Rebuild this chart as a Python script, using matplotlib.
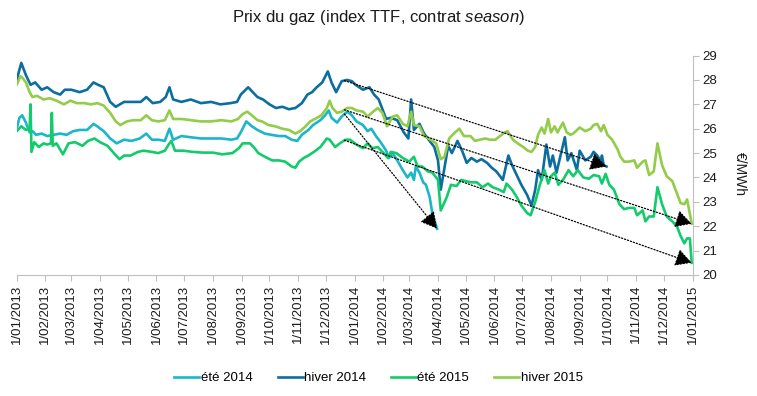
import numpy as np
import pandas as pd
import matplotlib
matplotlib.use("Agg")
import matplotlib.pyplot as plt
import matplotlib.dates as mdates

plt.rcParams['font.family'] = ['Liberation Sans', 'DejaVu Sans']
plt.rcParams['mathtext.fontset'] = 'custom'
plt.rcParams['mathtext.it'] = 'Liberation Sans:italic'
plt.rcParams['mathtext.rm'] = 'Liberation Sans'

# --- data (EUR/MWh) ---
ete14_dates = ["2013-01-01", "2013-01-04", "2013-01-07", "2013-01-11", "2013-01-15", "2013-01-18", "2013-01-22",
               "2013-01-28", "2013-02-03", "2013-02-10", "2013-02-17", "2013-02-24", "2013-03-03", "2013-03-10",
               "2013-03-18", "2013-03-25", "2013-03-29", "2013-04-05", "2013-04-12", "2013-04-19", "2013-04-27",
               "2013-05-05", "2013-05-14", "2013-05-21", "2013-05-27", "2013-06-03", "2013-06-10", "2013-06-15",
               "2013-06-19", "2013-06-28", "2013-07-08", "2013-07-19", "2013-07-30", "2013-08-10", "2013-08-21",
               "2013-08-27", "2013-08-31", "2013-09-06", "2013-09-12", "2013-09-18", "2013-09-26", "2013-10-03",
               "2013-10-11", "2013-10-18", "2013-10-25", "2013-10-31", "2013-11-05", "2013-11-12", "2013-11-17",
               "2013-11-25", "2013-11-30", "2013-12-04", "2013-12-07", "2013-12-13", "2013-12-18", "2013-12-24",
               "2013-12-29", "2014-01-03", "2014-01-10", "2014-01-15", "2014-01-19", "2014-01-24", "2014-01-29",
               "2014-02-04", "2014-02-07", "2014-02-11", "2014-02-16", "2014-02-22", "2014-02-27", "2014-03-03",
               "2014-03-06", "2014-03-08", "2014-03-12", "2014-03-16", "2014-03-19", "2014-03-23", "2014-03-26",
               "2014-03-31"]
ete14_values = [26.0, 26.45, 26.55, 26.25, 25.85, 25.9, 25.75,
                25.8, 25.7, 25.75, 25.8, 25.75, 25.9, 25.95,
                25.95, 26.2, 26.1, 25.9, 25.6, 25.4, 25.55,
                25.5, 25.6, 25.8, 25.55, 25.55, 25.5, 26.0,
                25.55, 25.7, 25.65, 25.6, 25.6, 25.6, 25.55,
                25.6, 25.85, 26.3, 26.1, 25.95, 25.8, 25.75,
                25.7, 25.7, 25.55, 25.5, 25.75, 25.95, 26.15,
                26.35, 26.55, 26.75, 26.45, 26.25, 26.5, 26.7,
                26.55, 26.3, 26.15, 25.9, 26.0, 25.7, 25.45,
                25.1, 24.8, 25.0, 24.7, 24.3, 24.0, 24.2,
                23.9, 24.45, 24.2, 23.8, 23.7, 23.2, 22.5,
                21.9]

hiv14_dates = ["2013-01-01", "2013-01-06", "2013-01-11", "2013-01-16", "2013-01-21", "2013-01-28", "2013-02-03",
               "2013-02-10", "2013-02-17", "2013-02-22", "2013-03-01", "2013-03-10", "2013-03-18", "2013-03-25",
               "2013-03-30", "2013-04-05", "2013-04-12", "2013-04-18", "2013-04-27", "2013-05-05", "2013-05-15",
               "2013-05-21", "2013-05-28", "2013-06-05", "2013-06-11", "2013-06-15", "2013-06-19", "2013-06-28",
               "2013-07-08", "2013-07-19", "2013-07-30", "2013-08-09", "2013-08-20", "2013-08-27", "2013-08-31",
               "2013-09-08", "2013-09-13", "2013-09-18", "2013-09-24", "2013-10-01", "2013-10-08", "2013-10-15",
               "2013-10-22", "2013-10-29", "2013-11-05", "2013-11-11", "2013-11-16", "2013-11-21", "2013-11-27",
               "2013-12-03", "2013-12-07", "2013-12-12", "2013-12-18", "2013-12-24", "2013-12-29", "2014-01-02",
               "2014-01-10", "2014-01-17", "2014-01-22", "2014-01-27", "2014-02-04", "2014-02-09", "2014-02-16",
               "2014-02-23", "2014-02-28", "2014-03-03", "2014-03-06", "2014-03-12", "2014-03-17", "2014-03-22",
               "2014-03-28", "2014-04-01", "2014-04-04", "2014-04-08", "2014-04-12", "2014-04-16", "2014-04-22",
               "2014-04-27", "2014-05-02", "2014-05-07", "2014-05-13", "2014-05-18", "2014-05-24", "2014-05-29",
               "2014-06-03", "2014-06-10", "2014-06-16", "2014-06-20", "2014-06-25", "2014-06-30", "2014-07-06",
               "2014-07-11", "2014-07-15", "2014-07-18", "2014-07-22", "2014-07-27", "2014-07-31", "2014-08-03",
               "2014-08-07", "2014-08-11", "2014-08-16", "2014-08-19", "2014-08-23", "2014-08-29", "2014-09-01",
               "2014-09-07", "2014-09-13", "2014-09-16", "2014-09-20", "2014-09-24", "2014-09-25", "2014-09-27",
               "2014-09-30"]
hiv14_values = [28.0, 28.7, 28.2, 27.8, 27.9, 27.6, 27.7,
                27.5, 27.4, 27.6, 27.6, 27.5, 27.6, 27.9,
                27.8, 27.7, 27.1, 26.9, 27.1, 27.1, 27.1,
                27.3, 27.05, 27.1, 27.3, 27.7, 27.2, 27.1,
                27.2, 27.05, 27.1, 27.0, 27.05, 27.1, 27.4,
                27.7, 27.5, 27.3, 27.2, 27.0, 26.85, 26.9,
                26.8, 26.85, 27.05, 27.4, 27.5, 27.7, 27.9,
                28.35, 27.9, 27.5, 27.95, 28.0, 27.95, 27.8,
                27.6, 27.7, 27.4, 27.2, 26.4, 26.45, 26.35,
                25.85, 25.6, 27.2, 25.95, 26.2, 25.8, 25.55,
                25.25, 24.7, 23.5, 24.4, 25.3, 25.0, 25.5,
                25.1, 24.6, 24.8, 24.65, 24.75, 24.6, 24.4,
                24.25, 23.9, 24.9, 24.5, 24.1, 23.7, 23.3,
                22.85, 23.5, 24.3, 23.9, 25.35, 24.45, 24.9,
                24.2, 24.85, 25.65, 24.7, 25.0, 24.3, 25.1,
                24.7, 24.85, 25.05, 24.9, 24.65, 24.9, 24.5,
                24.45]

ete15_dates = ["2013-01-01", "2013-01-06", "2013-01-11", "2013-01-15", "2013-01-16", "2013-01-17", "2013-01-20",
               "2013-01-25", "2013-01-30", "2013-02-03", "2013-02-07", "2013-02-08", "2013-02-09", "2013-02-13",
               "2013-02-20", "2013-02-26", "2013-03-05", "2013-03-13", "2013-03-19", "2013-03-26", "2013-04-01",
               "2013-04-09", "2013-04-16", "2013-04-22", "2013-04-27", "2013-05-04", "2013-05-12", "2013-05-18",
               "2013-05-27", "2013-06-03", "2013-06-10", "2013-06-15", "2013-06-17", "2013-06-21", "2013-06-30",
               "2013-07-10", "2013-07-21", "2013-08-01", "2013-08-11", "2013-08-22", "2013-08-29", "2013-09-02",
               "2013-09-10", "2013-09-15", "2013-09-19", "2013-09-26", "2013-10-04", "2013-10-11", "2013-10-18",
               "2013-10-25", "2013-10-29", "2013-11-02", "2013-11-07", "2013-11-12", "2013-11-18", "2013-11-25",
               "2013-12-02", "2013-12-05", "2013-12-11", "2013-12-16", "2013-12-22", "2013-12-27", "2014-01-03",
               "2014-01-10", "2014-01-15", "2014-01-20", "2014-01-26", "2014-01-31", "2014-02-06", "2014-02-09",
               "2014-02-15", "2014-02-22", "2014-03-01", "2014-03-06", "2014-03-10", "2014-03-15", "2014-03-21",
               "2014-03-26", "2014-04-01", "2014-04-04", "2014-04-10", "2014-04-15", "2014-04-21", "2014-04-26",
               "2014-05-01", "2014-05-07", "2014-05-13", "2014-05-19", "2014-05-25", "2014-05-30", "2014-06-06",
               "2014-06-11", "2014-06-14", "2014-06-20", "2014-06-25", "2014-06-30", "2014-07-06", "2014-07-10",
               "2014-07-15", "2014-07-20", "2014-07-25", "2014-07-29", "2014-08-01", "2014-08-05", "2014-08-09",
               "2014-08-14", "2014-08-20", "2014-08-25", "2014-08-30", "2014-09-05", "2014-09-11", "2014-09-16",
               "2014-09-22", "2014-09-25", "2014-09-29", "2014-10-03", "2014-10-08", "2014-10-14", "2014-10-19",
               "2014-10-24", "2014-10-30", "2014-11-02", "2014-11-08", "2014-11-11", "2014-11-15", "2014-11-20",
               "2014-11-24", "2014-11-29", "2014-12-04", "2014-12-10", "2014-12-15", "2014-12-19", "2014-12-23",
               "2014-12-26", "2014-12-29", "2014-12-31"]
ete15_values = [25.9, 26.1, 25.95, 26.0, 27.0, 25.05, 25.45,
                25.25, 25.4, 25.35, 25.4, 26.65, 25.3, 25.4,
                24.95, 25.4, 25.45, 25.3, 25.5, 25.6, 25.45,
                25.3, 25.0, 24.75, 24.9, 24.9, 25.05, 25.1,
                25.05, 25.0, 25.1, 25.4, 25.5, 25.1, 25.1,
                25.05, 25.02, 25.02, 24.95, 25.0, 25.2, 25.4,
                25.4, 25.2, 25.0, 24.85, 24.7, 24.7, 24.65,
                24.45, 24.4, 24.65, 24.8, 24.9, 25.05, 25.25,
                25.6, 25.55, 25.25, 25.4, 25.55, 25.55, 25.35,
                25.2, 25.4, 25.2, 25.25, 25.05, 24.8, 25.05,
                25.0, 24.8, 24.65, 24.85, 24.45, 24.45, 24.25,
                24.2, 23.9, 22.65, 23.15, 23.7, 23.65, 23.9,
                23.85, 23.8, 23.8, 23.6, 23.75, 23.6, 23.5,
                23.4, 23.75, 23.5, 23.2, 22.85, 22.55, 22.45,
                23.0, 23.7, 24.3, 23.75, 24.05, 24.2, 23.7,
                23.9, 24.3, 24.05, 24.3, 24.0, 23.95, 24.1,
                24.05, 23.75, 24.15, 23.7, 23.5, 22.9, 22.7,
                22.75, 22.75, 22.45, 22.65, 22.2, 22.4, 22.4,
                23.6, 22.9, 22.4, 22.2, 22.0, 21.6, 21.3,
                21.5, 21.5, 20.5]

hiv15_dates = ["2013-01-01", "2013-01-05", "2013-01-07", "2013-01-11", "2013-01-15", "2013-01-18", "2013-01-23",
               "2013-01-30", "2013-02-06", "2013-02-13", "2013-02-21", "2013-02-28", "2013-03-07", "2013-03-15",
               "2013-03-22", "2013-03-29", "2013-04-05", "2013-04-12", "2013-04-18", "2013-04-23", "2013-04-30",
               "2013-05-07", "2013-05-15", "2013-05-21", "2013-05-27", "2013-06-03", "2013-06-10", "2013-06-15",
               "2013-06-19", "2013-06-28", "2013-07-09", "2013-07-19", "2013-07-30", "2013-08-10", "2013-08-21",
               "2013-08-28", "2013-09-02", "2013-09-07", "2013-09-12", "2013-09-18", "2013-09-23", "2013-09-30",
               "2013-10-07", "2013-10-15", "2013-10-22", "2013-10-29", "2013-11-03", "2013-11-09", "2013-11-14",
               "2013-11-19", "2013-11-26", "2013-12-02", "2013-12-05", "2013-12-08", "2013-12-13", "2013-12-18",
               "2013-12-24", "2013-12-29", "2014-01-03", "2014-01-10", "2014-01-15", "2014-01-21", "2014-01-26",
               "2014-01-31", "2014-02-05", "2014-02-11", "2014-02-16", "2014-02-22", "2014-02-27", "2014-03-03",
               "2014-03-06", "2014-03-12", "2014-03-17", "2014-03-22", "2014-03-30", "2014-04-04", "2014-04-08",
               "2014-04-13", "2014-04-18", "2014-04-24", "2014-04-29", "2014-05-06", "2014-05-11", "2014-05-16",
               "2014-05-22", "2014-05-27", "2014-06-02", "2014-06-07", "2014-06-12", "2014-06-15", "2014-06-21",
               "2014-06-26", "2014-07-02", "2014-07-07", "2014-07-11", "2014-07-15", "2014-07-18", "2014-07-22",
               "2014-07-25", "2014-07-29", "2014-08-01", "2014-08-05", "2014-08-08", "2014-08-14", "2014-08-18",
               "2014-08-22", "2014-08-25", "2014-09-01", "2014-09-07", "2014-09-13", "2014-09-16", "2014-09-20",
               "2014-09-24", "2014-09-27", "2014-10-01", "2014-10-06", "2014-10-12", "2014-10-15", "2014-10-19",
               "2014-10-24", "2014-10-30", "2014-11-02", "2014-11-08", "2014-11-11", "2014-11-15", "2014-11-20",
               "2014-11-24", "2014-11-29", "2014-12-04", "2014-12-10", "2014-12-15", "2014-12-19", "2014-12-23",
               "2014-12-26", "2014-12-31"]
hiv15_values = [27.8, 28.15, 28.1, 27.9, 27.5, 27.3, 27.35,
                27.2, 27.25, 27.15, 27.0, 27.15, 27.05, 27.05,
                27.0, 27.05, 26.95, 26.65, 26.3, 26.15, 26.3,
                26.35, 26.35, 26.55, 26.35, 26.3, 26.35, 26.75,
                26.4, 26.4, 26.35, 26.3, 26.3, 26.35, 26.3,
                26.4, 26.6, 26.7, 26.55, 26.35, 26.3, 26.15,
                26.1, 26.0, 25.95, 25.8, 25.9, 26.1, 26.3,
                26.4, 26.55, 26.85, 27.15, 26.85, 26.65, 26.7,
                26.85, 26.85, 26.75, 26.7, 26.5, 26.7, 26.85,
                26.65, 26.1, 26.5, 26.55, 26.2, 26.1, 26.7,
                26.15, 26.1, 25.7, 25.6, 25.4, 24.75, 24.85,
                25.6, 25.8, 26.0, 25.7, 25.7, 25.5, 25.55,
                25.6, 25.55, 25.55, 25.7, 25.85, 25.9, 25.55,
                25.4, 25.25, 25.1, 25.05, 25.25, 25.75, 26.05,
                25.8, 26.4, 25.85, 26.1, 25.85, 26.25, 25.85,
                25.75, 25.8, 26.05, 25.9, 26.0, 26.15, 26.2,
                25.9, 26.15, 25.75, 25.55, 25.15, 24.85, 24.65,
                24.65, 24.7, 24.4, 24.65, 24.7, 24.1, 24.25,
                25.4, 24.5, 24.05, 23.85, 23.35, 22.95, 22.9,
                23.1, 22.1]

series_names = ["été 2014", "hiver 2014", "été 2015", "hiver 2015"]
series_colors = ["#1BB6CA", "#0C6E9E", "#12CB6B", "#92CC48"]
series_dates = [ete14_dates, hiv14_dates, ete15_dates, hiv15_dates]
series_values = [ete14_values, hiv14_values, ete15_values, hiv15_values]

# dotted trend arrows: start date, then down to the last quote of the series
arrow_start = "2013-12-21"
arrow_series = ["hiver 2014", "hiver 2015", "été 2015", "été 2014"]

fig = plt.figure(figsize=(7.57, 3.96), dpi=100)
ax = fig.add_axes([0.022, 0.3056, 0.893, 0.554])

data = {}
for name, col, d, v in zip(series_names, series_colors, series_dates, series_values):
    s = pd.Series(v, index=pd.to_datetime(d))
    data[name] = s
    ax.plot(s.index, s.values, color=col, lw=1.9, label=name, solid_joinstyle='round')

t0 = mdates.date2num(pd.Timestamp(arrow_start))
for name in arrow_series:
    s = data[name]
    xs = mdates.date2num(s.index)
    y0 = np.interp(t0, xs, s.values)
    ax.annotate("", xy=(xs[-1], s.values[-1]), xytext=(t0, y0),
                arrowprops=dict(arrowstyle='-|>,head_length=0.55,head_width=0.3', linestyle=(0, (1, 1.5)),
                                lw=0.9, color='black', mutation_scale=18, shrinkA=0, shrinkB=0))

ax.set_xlim(pd.Timestamp("2013-01-01"), pd.Timestamp("2015-01-01"))
ax.set_ylim(20, 29)

months = pd.date_range("2013-01-01", "2015-01-01", freq="MS")
ax.set_xticks(months)
ax.set_xticklabels(months.strftime("1/%m/%Y"), rotation=90, fontsize=9.5, color='#1a1a1a')
ax.yaxis.tick_right()
ax.set_yticks(np.arange(20, 30, 1))
ax.tick_params(axis='y', labelsize=9.5, labelcolor='#1a1a1a', color='#BFBFBF', length=4, pad=3)
ax.tick_params(axis='x', color='#BFBFBF', length=4, pad=3)

for sp in ['top', 'left']:
    ax.spines[sp].set_visible(False)
for sp in ['bottom', 'right']:
    ax.spines[sp].set_color('#BFBFBF')

fig.text(0.978, 0.56, "€/MWh", rotation=270, ha='center', va='center', fontsize=10, color='#1a1a1a')
fig.text(0.5, 0.955, r"Prix du gaz (index TTF, contrat $\mathit{season}$)", ha='center', va='center',
         fontsize=12, color='#1a1a1a')

fig.legend(loc='lower center', bbox_to_anchor=(0.5, 0.0), ncol=4, frameon=False, fontsize=9.5,
           handlelength=1.9, handletextpad=0.1, columnspacing=1.9)

fig.savefig("out.png", dpi=100)
